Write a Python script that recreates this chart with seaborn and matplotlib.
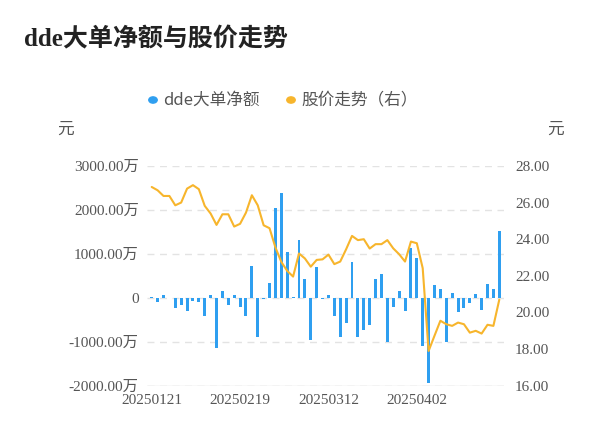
import numpy as np
import pandas as pd
import matplotlib
matplotlib.use("Agg")
import matplotlib.pyplot as plt
import seaborn as sns

# dde大单净额 (万元)
dde_net = [30, -90, 75, 5, -240, -170, -300, -70, -105, -420,
           75, -1150, 150, -170, 75, -200, -420, 730, -880, -30,
           330, 2050, 2390, 1045, 10, 1310, 425, -970, 700, -30,
           60, -420, -880, -580, 825, -880, -735, -620, 425, 540,
           -1000, -200, 150, -295, 1135, 895, -1090, -1940, 290, 200,
           -1000, 100, -330, -230, -120, 90, -280, 325, 200, 1515]
# 股价 (元)
price = [26.85, 26.67, 26.36, 26.36, 25.85, 26.0, 26.76, 26.95, 26.73, 25.82,
         25.4, 24.78, 25.36, 25.36, 24.69, 24.84, 25.45, 26.4, 25.85, 24.76,
         24.6, 23.55, 22.76, 22.27, 21.96, 23.22, 22.95, 22.5, 22.87, 22.9,
         23.16, 22.64, 22.78, 23.45, 24.18, 23.95, 24.0, 23.49, 23.73, 23.73,
         23.95, 23.5, 23.18, 22.78, 23.87, 23.78, 22.42, 17.9, 18.73, 19.55,
         19.36, 19.27, 19.45, 19.36, 18.9, 19.0, 18.85, 19.33, 19.27, 20.7]
tick_pos = [0, 15, 30, 45]
tick_labels = ["20250121", "20250219", "20250312", "20250402"]

df = pd.DataFrame({"x": np.arange(len(dde_net)), "dde": dde_net, "price": price})

sns.set_style("white")
plt.rcParams['font.family'] = ['Liberation Serif', 'Noto Sans CJK SC', 'DejaVu Sans']

bar_c = "#2f9ff0"
line_c = "#f7b52c"
txt_c = "#555555"

fig = plt.figure(figsize=(6, 4.46), dpi=100)
ax = fig.add_axes([0.245, 0.135, 0.595, 0.493])
ax.bar(df["x"], df["dde"], width=0.5, color=bar_c, linewidth=0, zorder=3)
ax.set_ylim(-2000, 3000)
ax.set_yticks([-2000, -1000, 0, 1000, 2000, 3000])
ax.set_yticklabels(["-2000.00万", "-1000.00万", "0", "1000.00万", "2000.00万", "3000.00万"])
ax.grid(axis="y", color="#e3e3e3", linestyle=(0, (5, 4)), linewidth=1)
ax.set_xticks(tick_pos)
ax.set_xticklabels(tick_labels)
ax.tick_params(length=0, labelsize=11, colors=txt_c, pad=6)
for s in ax.spines.values():
    s.set_visible(False)
ax.axhline(-2000, color="#dddddd", lw=1)

ax2 = ax.twinx()
sns.lineplot(data=df, x="x", y="price", ax=ax2, color=line_c, linewidth=1.5, zorder=4)
ax2.set_ylim(16, 28)
ax2.set_yticks([16, 18, 20, 22, 24, 26, 28])
ax2.set_yticklabels([f"{v:.2f}" for v in [16, 18, 20, 22, 24, 26, 28]])
ax2.set_ylabel("")
ax2.set_xlabel("")
ax2.tick_params(length=0, labelsize=11, colors=txt_c, pad=8)
for s in ax2.spines.values():
    s.set_visible(False)
ax.set_xlabel("")
ax.set_xlim(-0.8, 59.8)
ax2.set_xlim(-0.8, 59.8)

fig.text(0.04, 0.895, "dde大单净额与股价走势", fontsize=18, fontweight="bold",
         color="#222222", family=['Liberation Serif', 'Noto Sans CJK SC', 'DejaVu Sans'])
fig.text(0.11, 0.70, "元", fontsize=12, color=txt_c, ha="center", family=['Noto Sans CJK SC'])
fig.text(0.925, 0.70, "元", fontsize=12, color=txt_c, ha="center", family=['Noto Sans CJK SC'])

# legend
ly = 1 - 100 / 446
fig.patches.append(plt.Circle((0.255, ly), 0.007, transform=fig.transFigure, color=bar_c))
fig.text(0.272, ly, "dde大单净额", fontsize=12, color=txt_c, va="center",
         family=['Noto Sans CJK SC', 'DejaVu Sans'])
fig.patches.append(plt.Circle((0.485, ly), 0.007, transform=fig.transFigure, color=line_c))
fig.text(0.502, ly, "股价走势（右）", fontsize=12, color=txt_c, va="center",
         family=['Noto Sans CJK SC', 'DejaVu Sans'])

fig.savefig("out.png", dpi=100)
